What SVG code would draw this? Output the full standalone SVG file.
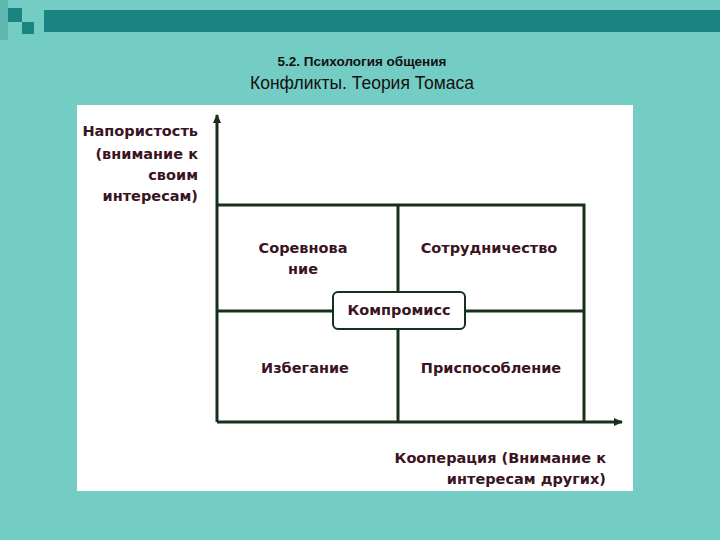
<svg xmlns="http://www.w3.org/2000/svg" width="720" height="540" viewBox="0 0 720 540">
<style>
.t{font-family:"DejaVu Sans",sans-serif;font-size:14.5px;font-weight:bold;fill:#3a1422}
.g{stroke:#17301c;stroke-width:3;fill:none}
</style>
<defs><marker id="a" markerWidth="10" markerHeight="10" refX="8" refY="5" orient="auto" markerUnits="userSpaceOnUse"><path d="M0,1 L9,5 L0,9 Z" fill="#17301c"/></marker></defs>
<rect width="720" height="540" fill="#74cdc4"/>
<rect x="44" y="10" width="676" height="22" fill="#1a8480"/>
<rect x="8" y="8" width="14" height="14" fill="#1a8480"/>
<rect x="22" y="22" width="12" height="12" fill="#1a8480"/>
<rect x="0" y="0" width="8" height="40" fill="#5fb8b0"/>
<text x="362" y="66" text-anchor="middle" font-family="Liberation Sans,sans-serif" font-size="13.5" font-weight="bold" fill="#111">5.2. Психология общения</text>
<text x="362" y="89" text-anchor="middle" font-family="Liberation Sans,sans-serif" font-size="17.5" fill="#111">Конфликты. Теория Томаса</text>
<rect x="77" y="105" width="556" height="386" fill="#fff"/>
<g id="connectors">
<line class="g" x1="217" y1="422" x2="217" y2="115" marker-end="url(#a)"/>
<line class="g" x1="217" y1="422" x2="622" y2="422" marker-end="url(#a)"/>
<path class="g" d="M217,205 H584 V422 M398,205 V422 M217,311 H584"/>
</g>
<g id="axis-y"><text class="t" text-anchor="end"><tspan x="198" y="136">Напористость</tspan><tspan x="198" y="159">(внимание к</tspan><tspan x="198" y="180">своим</tspan><tspan x="198" y="201">интересам)</tspan></text></g>
<g id="axis-x"><text class="t" text-anchor="end"><tspan x="606" y="463">Кооперация (Внимание к</tspan><tspan x="606" y="484">интересам других)</tspan></text></g>
<g id="competition"><text class="t" text-anchor="middle"><tspan x="303" y="253">Соревнова</tspan><tspan x="303" y="274">ние</tspan></text></g>
<g id="cooperation"><text class="t" x="489" y="253" text-anchor="middle">Сотрудничество</text></g>
<g id="avoid"><text class="t" x="305" y="373" text-anchor="middle">Избегание</text></g>
<g id="accom"><text class="t" x="491" y="373" text-anchor="middle">Приспособление</text></g>
<g id="compromise"><rect x="333" y="292" width="132" height="37" rx="5" fill="#fff" stroke="#17301c" stroke-width="2"/><text class="t" x="399" y="315" text-anchor="middle">Компромисс</text></g>
</svg>
